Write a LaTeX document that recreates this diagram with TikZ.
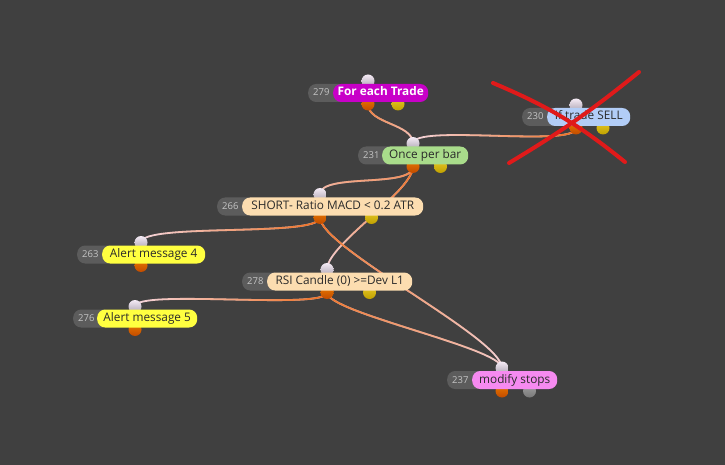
\documentclass[tikz,border=0pt]{standalone}
\usepackage{fontspec}
\setmainfont{Open Sans}
\usetikzlibrary{fadings}

\definecolor{bgDark}{HTML}{404040}
\definecolor{numGray}{HTML}{5C5C5C}
\definecolor{numText}{HTML}{C4C4C4}
\definecolor{labelText}{HTML}{2A2A2A}
\definecolor{cTrade}{HTML}{C800C8}
\definecolor{cSell}{HTML}{B2CDF7}
\definecolor{cBar}{HTML}{A9DC8B}
\definecolor{cPeach}{HTML}{FCDDB0}
\definecolor{cAlert}{HTML}{FFFF40}
\definecolor{cStops}{HTML}{F68AF0}
\definecolor{portIn}{HTML}{D6CCDD}
\definecolor{portOut}{HTML}{E35800}
\definecolor{portAlt}{HTML}{E2BE00}
\definecolor{portGray}{HTML}{8E8E8E}
\definecolor{edgeOrange}{HTML}{EF6F20}
\definecolor{edgePale}{HTML}{F4D6DE}
\definecolor{crossRed}{HTML}{E01A1A}

\pgfdeclarelayer{edges}
\pgfsetlayers{edges,main}

\begin{document}
\begin{tikzpicture}[
    x=1pt, y=-1pt,
    font=\fontsize{11.8}{13}\selectfont,
    pill/.style={rectangle, rounded corners=8pt, minimum height=18pt, inner xsep=0pt, inner ysep=0pt, text height=8.5pt, text depth=2.5pt},
    numpill/.style={pill, fill=numGray, text=numText, font=\fontsize{9.5}{11}\selectfont, inner xsep=5pt, align=left},
    inport/.style={circle, inner sep=0pt, minimum size=13pt, top color=white!92!violet, bottom color=portIn!80!black},
    outport/.style={circle, inner sep=0pt, minimum size=13pt, top color=portOut!80!yellow, bottom color=portOut!85!black},
    altport/.style={outport, top color=#1!85!white, bottom color=#1!85!black},
    flow/.style={draw=edgePale, line width=1.8pt, postaction={draw=edgeOrange, line width=1.8pt, path fading=#1}},
    cross/.style={draw=crossRed, line width=4pt, line cap=round}
]
\begin{pgfonlayer}{edges}
\fill[bgDark] (0,0) rectangle (725,465);
\end{pgfonlayer}
\useasboundingbox (0,0) rectangle (725,465);

% Trade nodes: id/number/label/fill/text/left/pill start/right/y/second output
\foreach \id/\num/\txt/\col/\tc/\xl/\xc/\xr/\y/\alt in {
    trade/279/\textbf{For each Trade}/cTrade/white/308/333/428/93/portAlt,
    sell/230/If trade SELL/cSell/labelText/522/547/630/117/portAlt,
    bar/231/Once per bar/cBar/labelText/358/382/468/155.5/portAlt,
    short/266/SHORT- Ratio MACD < 0.2 ATR/cPeach/labelText/217/242/423/206.5/portAlt,
    alertA/263/Alert message 4/cAlert/labelText/77/102/205/254.5/none,
    rsi/278/RSI Candle (0) >=Dev L1/cPeach/labelText/242/267/412/281.5/portAlt,
    alertB/276/Alert message 5/cAlert/labelText/73/97/197/318.5/none,
    stops/237/modify stops/cStops/labelText/447/472/557/380/portGray} {
    \pgfmathsetmacro\cx{(\xl+\xr)/2}
    \pgfmathsetmacro\ax{\cx+(\xr-\xl)/4}
    \pgfmathsetmacro\tw{\xc-\xl+4}
    \pgfmathsetmacro\wp{\xr-\xc}
    \node[inport] (\id-in) at (\cx,\y-12) {};
    \node[outport] (\id-out) at (\cx,\y+11) {};
    \ifnum\pdfstrcmp{\alt}{none}=0 \else
        \node[altport=\alt] (\id-alt) at (\ax,\y+11) {};
    \fi
    \node[numpill, text width=\tw pt, anchor=west] (\id-num) at (\xl,\y) {\num};
    \node[pill, fill=\col, text=\tc, minimum width=\wp pt, anchor=west] (\id) at (\xc,\y) {\txt};
}

% Connections
\begin{pgfonlayer}{edges}
\draw[flow=south] (trade-out.center) .. controls +(0,20) and +(0,-20) .. (bar-in.center);
\draw[flow=west] (sell-out.center) .. controls +(0,20) and +(0,-20) .. (bar-in.center);
\draw[flow=south] (bar-out.center) .. controls +(0,22) and +(0,-22) .. (short-in.center);
\draw[flow=south] (bar-out.center) .. controls +(0,25) and +(0,-25) .. (rsi-in.center);
\draw[flow=west] (short-out.center) .. controls +(0,20) and +(0,-20) .. (alertA-in.center);
\draw[flow=south] (short-out.center) .. controls +(0,30) and +(0,-30) .. (stops-in.center);
\draw[flow=west] (rsi-out.center) .. controls +(0,18) and +(0,-18) .. (alertB-in.center);
\draw[flow=south] (rsi-out.center) .. controls +(0,20) and +(0,-20) .. (stops-in.center);
\end{pgfonlayer}

% Struck-out node
\coordinate (crossA1) at (493,83);
\coordinate (crossA2) at (625,162);
\coordinate (crossB1) at (639,72);
\coordinate (crossB2) at (509,163);
\draw[cross] (crossA1) to[bend left=8] (crossA2);
\draw[cross] (crossB1) to[bend left=4] (crossB2);

\end{tikzpicture}
\end{document}
